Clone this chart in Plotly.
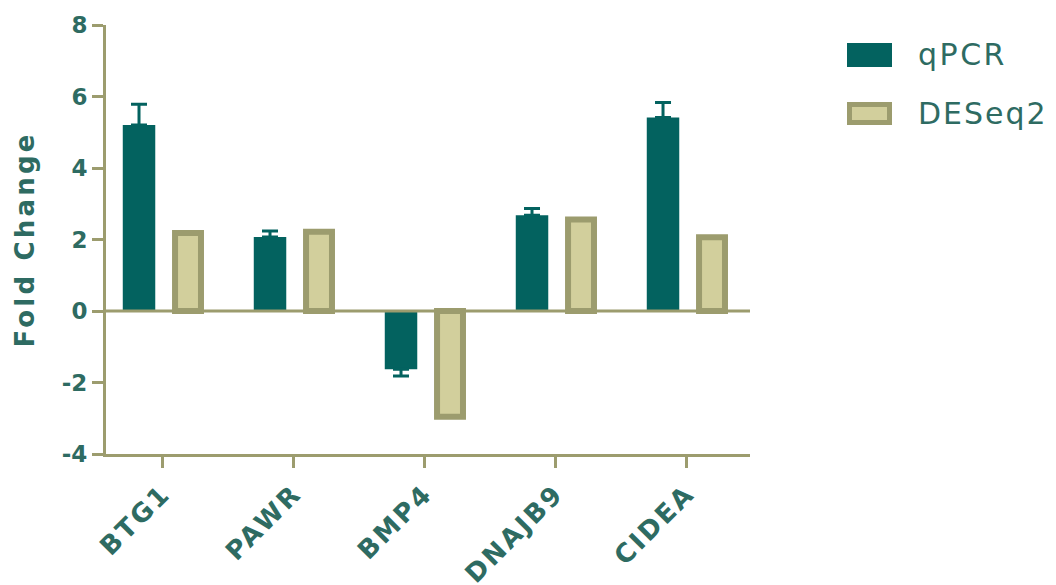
import plotly.graph_objects as go

genes = ["BTG1", "PAWR", "BMP4", "DNAJB9", "CIDEA"]
qpcr = [5.20, 2.07, -1.63, 2.68, 5.41]
qpcr_err_up = [0.58, 0.17, 0.0, 0.19, 0.42]
qpcr_err_down = [0.0, 0.0, 0.19, 0.0, 0.0]
deseq2 = [2.18, 2.22, -2.96, 2.56, 2.06]
yticks = [-4, -2, 0, 2, 4, 6, 8]

TEAL = "#03625f"
OLIVE = "#9c9c6e"
KHAKI = "#d2cf9c"
TEXT = "#2e6b62"
FONT = "DejaVu Sans"

W, H = 1056, 585
L, R, T, B = 106, 306, 25, 131
PW, PH = W - L - R, H - T - B


def px(xp):
    return (xp - L) / PW


def py(yp):
    return (H - B - yp) / PH


def spaced(s, sp):
    return '<span style="letter-spacing:%.1fpx">%s</span>' % (sp, s)


fig = go.Figure()
fig.add_trace(go.Bar(
    x=genes, y=qpcr, name="qPCR",
    width=0.248, offset=-0.307,
    marker=dict(color=TEAL, line=dict(width=0)),
    error_y=dict(type="data", symmetric=False, array=qpcr_err_up,
                 arrayminus=qpcr_err_down, color=TEAL, thickness=3, width=8),
    showlegend=False,
))
fig.add_trace(go.Bar(
    x=genes, y=deseq2, name="DESeq2",
    width=0.198, offset=0.092,
    marker=dict(color=KHAKI, line=dict(color=OLIVE, width=6)),
    showlegend=False,
))

# zero line on top of bars
fig.add_shape(type="line", xref="paper", yref="y", x0=0, x1=1, y0=0, y1=0,
              line=dict(color=OLIVE, width=3), layer="above")

# manual legend
fig.add_shape(type="rect", xref="paper", yref="paper",
              x0=px(847), x1=px(892), y0=py(67), y1=py(43),
              fillcolor=TEAL, line=dict(width=0))
fig.add_shape(type="rect", xref="paper", yref="paper",
              x0=px(849.5), x1=px(889.5), y0=py(122.5), y1=py(104.5),
              fillcolor=KHAKI, line=dict(color=OLIVE, width=5))
fig.add_annotation(x=px(916), y=py(55), xref="paper", yref="paper",
                   text=spaced("qPCR", 2.5),
                   showarrow=False, xanchor="left", yanchor="middle",
                   font=dict(family=FONT, size=30, color=TEXT))
fig.add_annotation(x=px(916), y=py(113), xref="paper", yref="paper",
                   text=spaced("DESeq2", 2.0),
                   showarrow=False, xanchor="left", yanchor="middle",
                   font=dict(family=FONT, size=30, color=TEXT))

fig.update_layout(
    width=W, height=H,
    margin=dict(l=L, r=R, t=T, b=B, pad=0, autoexpand=False),
    plot_bgcolor="white", paper_bgcolor="white",
    barmode="group",
    font=dict(family=FONT, color=TEXT),
)
fig.update_xaxes(
    type="category", categoryarray=genes, range=[-0.435, 4.481],
    tickvals=genes, ticktext=[spaced(g, 2.5) for g in genes],
    showline=True, linecolor=OLIVE, linewidth=3,
    ticks="outside", ticklen=11, tickwidth=3, tickcolor=OLIVE,
    tickangle=-45, tickfont=dict(family=FONT, size=26, color=TEXT, weight="bold"),
    showgrid=False, zeroline=False, automargin=False,
)
fig.update_yaxes(
    range=[-4, 8], tickvals=yticks, ticktext=[str(v) for v in yticks],
    showline=True, linecolor=OLIVE, linewidth=3,
    ticks="outside", ticklen=11, tickwidth=3, tickcolor=OLIVE,
    tickfont=dict(family=FONT, size=23, color=TEXT, weight="bold"),
    showgrid=False, zeroline=False, automargin=False,
    title=dict(text=spaced("Fold Change", 3.2),
               font=dict(family=FONT, size=26, color=TEXT, weight="bold"),
               standoff=20),
)

fig.write_html("out.html")
